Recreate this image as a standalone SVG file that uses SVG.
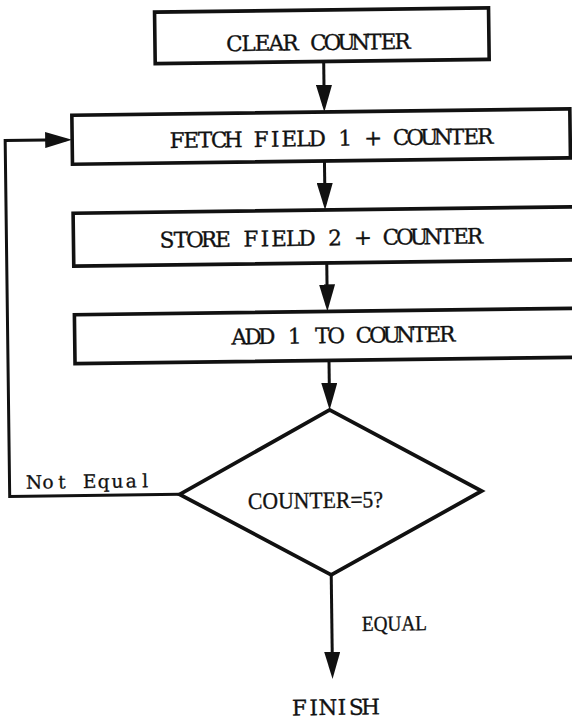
<svg xmlns="http://www.w3.org/2000/svg" width="572" height="722" viewBox="0 0 572 722">
<style>
.box{fill:#fff;stroke:#111;stroke-width:3.6}
.dia{fill:#fff;stroke:#111;stroke-width:3.8;stroke-linejoin:miter}
.tw{font-family:"DejaVu Serif","Liberation Serif",serif;font-size:21.5px;fill:#111;stroke:#111;stroke-width:0.35;text-anchor:middle}
.sm{font-family:"DejaVu Serif","Liberation Serif",serif;font-size:18.5px;fill:#111;stroke:#111;stroke-width:0.3;text-anchor:middle}
.lb{font-family:"Liberation Serif","DejaVu Serif",serif;fill:#111;stroke:#111;stroke-width:0.35}
.con{fill:none;stroke:#111;stroke-width:3}
</style>
<defs>
<marker id="ah" markerUnits="userSpaceOnUse" markerWidth="27" markerHeight="16" viewBox="0 0 27 16" refX="21" refY="8" orient="auto">
<path d="M0,0 L27,8 L0,16 z" fill="#111"/>
</marker>
</defs>
<rect width="572" height="722" fill="#fff"/>
<g transform="rotate(-0.73 286 361)">
<g id="connectors">
<path class="con" d="M327.5,62 V106.5" marker-end="url(#ah)"/>
<path class="con" d="M327,161.5 V204.5" marker-end="url(#ah)"/>
<path class="con" d="M328,263.5 V306" marker-end="url(#ah)"/>
<path class="con" d="M329,361 V404.5" marker-end="url(#ah)"/>
<path class="con" d="M328.5,575.5 V673.5" marker-end="url(#ah)"/>
<path class="con" d="M178,493 H8 V137 H69" marker-end="url(#ah)"/>
<text class="sm" x="32.6 46.5 60.4 74.2 88.1 102 115.9 129.7 143.6" y="485.5">Not Equal</text>
<text class="lb" x="358.6" y="632" font-size="21.5" textLength="65" lengthAdjust="spacingAndGlyphs">EQUAL</text>
</g>
<g id="clear">
<rect class="box" x="159" y="10.5" width="334" height="51.5"/>
<text class="tw" x="238.5 252.5 266.5 280.5 294.5 308.5 322.5 336.5 350.5 364.5 378.5 392.5 406.5" y="50.5">CLEAR COUNTER</text>
</g>
<g id="fetch">
<rect class="box" x="75" y="112.5" width="498" height="49"/>
<text class="tw" x="180 194 208 222 236 250 264 278 292 306 320 334 348 362 376 390 404 418 432 446 460 474 488" y="146.5">FETCH FIELD 1 + COUNTER</text>
</g>
<g id="store">
<rect class="box" x="75" y="210.5" width="510" height="53"/>
<text class="tw" x="168.5 182.5 196.5 210.5 224.5 238.5 252.5 266.5 280.5 294.5 308.5 322.5 336.5 350.5 364.5 378.5 392.5 406.5 420.5 434.5 448.5 462.5 476.5" y="246">STORE FIELD 2 + COUNTER</text>
</g>
<g id="add">
<rect class="box" x="75" y="312" width="510" height="49"/>
<text class="tw" x="239.5 253.4 267.2 281.1 295 308.9 322.7 336.6 350.5 364.3 378.2 392.1 405.9 419.8 433.7 447.5" y="343.7">ADD 1 TO COUNTER</text>
</g>
<g id="decision">
<polygon class="dia" points="329,410.5 480,493.5 328.5,575.5 178,493"/>
<text class="lb" x="246.2" y="508.5" font-size="23.5" textLength="135" lengthAdjust="spacingAndGlyphs">COUNTER=5?</text>
</g>
<g id="finish">
<text class="tw" x="295 309.2 323.4 337.6 351.8 366" y="715.5">FINISH</text>
</g>
</g>
</svg>
